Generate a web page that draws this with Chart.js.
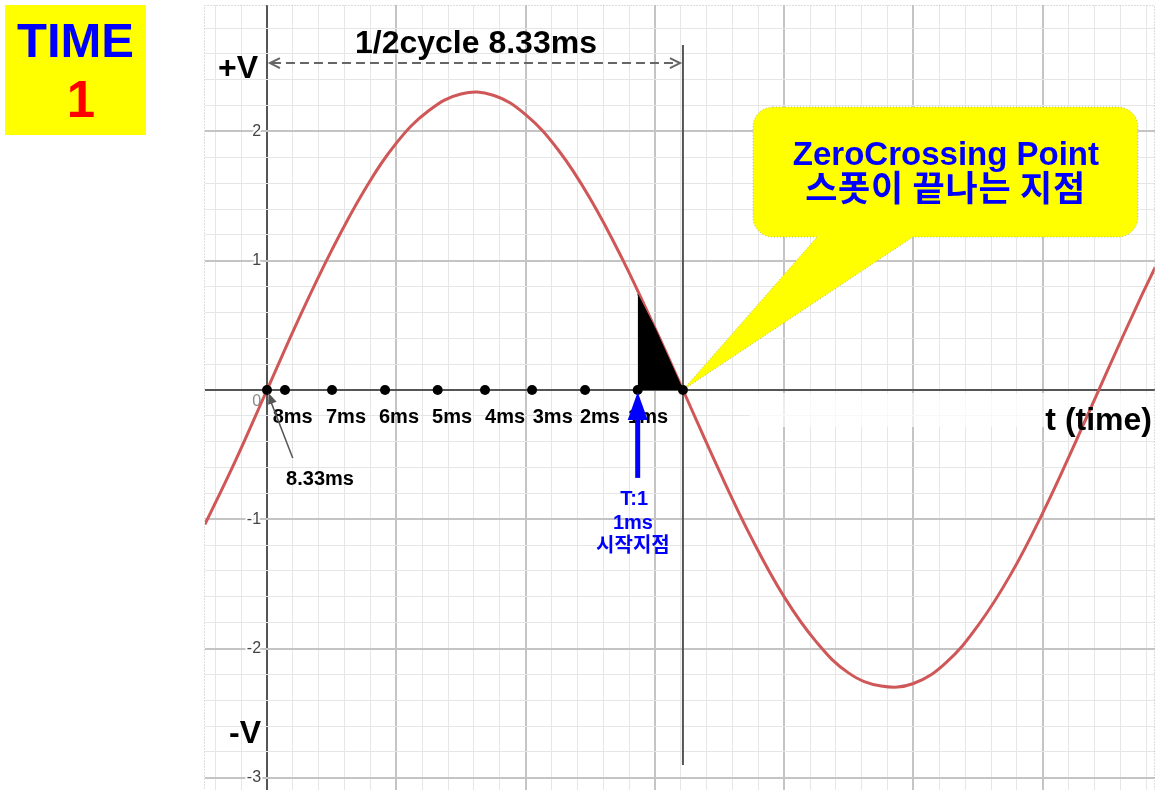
<!DOCTYPE html>
<html>
<head>
<meta charset="utf-8">
<script src="https://cdn.jsdelivr.net/npm/chart.js@4.4.0/dist/chart.umd.min.js"></script>
<style>
  html, body { margin: 0; padding: 0; background: #fff; overflow: hidden; }
  #wrap { position: relative; width: 1165px; height: 790px; overflow: hidden; }
  canvas { display: block; }
</style>
</head>
<body>
<div id="wrap"><canvas id="chart" width="1165" height="795"></canvas></div>
<script>
// wave: t and v in grid units (1 grid unit = 1 major square)
const waveT = [-0.48, -0.25, 0, 0.25, 0.5, 0.75, 1.0, 1.25, 1.5, 1.75, 2.0, 2.25, 2.5, 2.75, 3.0, 3.217,
  3.5, 3.75, 4.0, 4.25, 4.5, 4.75, 5.0, 5.25, 5.5, 5.75, 6.0, 6.25, 6.5, 6.75, 6.87]
const waveV = [-1.04, -0.56, 0, 0.56, 1.08, 1.54, 1.91, 2.16, 2.29, 2.28, 2.13, 1.86, 1.48, 1.01, 0.48, 0,
  -0.63, -1.15, -1.60, -1.95, -2.19, -2.29, -2.27, -2.11, -1.82, -1.43, -0.95, -0.41, 0.15, 0.70, 0.95]

// black area from the 1ms point to the zero crossing
const shadeT = [2.867, 3.0, 3.217]
const shadeV = [0.74, 0.48, 0]

// points marked on the time axis
const dotT = [0, 0.139, 0.503, 0.913, 1.32, 1.686, 2.05, 2.46, 2.867, 3.217]
const msLabels = ['8ms', '7ms', '6ms', '5ms', '4ms', '3ms', '2ms', '1ms']

const yTickValues = [2, 1, 0, -1, -2, -3]
const yTickLabels = ['2', '1', '0', '-1', '-2', '-3']

const X_MIN = -0.4795, X_MAX = 6.868
const Y_MIN = -3.094, Y_MAX = 2.978

const FONT = '"Liberation Sans", Arial, sans-serif'
const KFONT = '"Noto Sans CJK KR", "Liberation Sans", sans-serif'

function gridTicks(from, to) {
    const out = []
    for (let i = Math.ceil(from * 5); i <= Math.floor(to * 5); i++) out.push({value: i / 5})
    return out
}

function gridColor(ctx) {
    const v = ctx.tick.value
    if (Math.abs(v) < 1e-9) return '#555555'
    if (Math.abs(v - Math.round(v)) < 1e-9) return '#c4c4c4'
    return '#e6e6e6'
}

function gridWidth(ctx) {
    const v = ctx.tick.value
    if (Math.abs(v) < 1e-9) return 2
    if (Math.abs(v - Math.round(v)) < 1e-9) return 2
    return 1
}

function arrowHead(ctx, fx, fy, tx, ty, len, half) {
    const a = Math.atan2(ty - fy, tx - fx)
    ctx.beginPath()
    ctx.moveTo(tx, ty)
    ctx.lineTo(tx - len * Math.cos(a) + half * Math.sin(a), ty - len * Math.sin(a) - half * Math.cos(a))
    ctx.lineTo(tx - len * Math.cos(a) - half * Math.sin(a), ty - len * Math.sin(a) + half * Math.cos(a))
    ctx.closePath()
    ctx.fill()
}

function spacedText(ctx, text, cx, by, width) {
    const w = ctx.measureText(text).width
    const n = [...text].length
    const gap = (width - w) / (n - 1)
    let xx = cx - width / 2
    ctx.textAlign = 'left'
    for (const ch of text) {
        ctx.fillText(ch, xx, by)
        xx += ctx.measureText(ch).width + gap
    }
}

const annotate = {
    id: 'annotate',
    beforeDatasetsDraw(chart) {
        const {ctx, chartArea: area, scales: {x, y}} = chart
        const px = v => x.getPixelForValue(v)
        const py = v => y.getPixelForValue(v)
        ctx.save()

        // light band behind the time label
        ctx.fillStyle = 'rgba(255,255,255,0.7)'
        ctx.fillRect(px(3.735), py(-0.023), area.right - px(3.735), py(-0.286) - py(-0.023))

        // y tick labels
        ctx.font = '16px ' + FONT
        ctx.textAlign = 'right'
        ctx.textBaseline = 'middle'
        ctx.lineWidth = 4
        ctx.strokeStyle = '#ffffff'
        yTickValues.forEach((v, i) => {
            const yy = v === 0 ? py(-0.093) : py(v)
            ctx.fillStyle = v === 0 ? '#8a8a8a' : '#444444'
            ctx.strokeText(yTickLabels[i], px(-0.046), yy)
            ctx.fillText(yTickLabels[i], px(-0.046), yy)
        })

        // half cycle marker line
        ctx.strokeStyle = '#555555'
        ctx.lineWidth = 2
        ctx.beginPath()
        ctx.moveTo(px(3.217), py(2.668))
        ctx.lineTo(px(3.217), py(-2.90))
        ctx.stroke()

        // callout box with pointer to the zero crossing
        const x0 = px(3.759), x1 = px(6.736), y0 = py(2.189), y1 = py(1.183), r = 20
        ctx.beginPath()
        ctx.moveTo(x0 + r, y0)
        ctx.lineTo(x1 - r, y0)
        ctx.arcTo(x1, y0, x1, y0 + r, r)
        ctx.lineTo(x1, y1 - r)
        ctx.arcTo(x1, y1, x1 - r, y1, r)
        ctx.lineTo(px(4.996), y1)
        ctx.lineTo(px(3.217), py(0))
        ctx.lineTo(px(4.254), y1)
        ctx.lineTo(x0 + r, y1)
        ctx.arcTo(x0, y1, x0, y1 - r, r)
        ctx.lineTo(x0, y0 + r)
        ctx.arcTo(x0, y0, x0 + r, y0, r)
        ctx.closePath()
        ctx.fillStyle = '#ffff00'
        ctx.fill()
        ctx.setLineDash([1, 2])
        ctx.lineWidth = 1
        ctx.strokeStyle = 'rgba(140,140,100,0.6)'
        ctx.stroke()
        ctx.setLineDash([])

        ctx.fillStyle = '#0000ff'
        ctx.textBaseline = 'alphabetic'
        ctx.textAlign = 'center'
        ctx.font = 'bold 33px ' + FONT
        ctx.fillText('ZeroCrossing Point', px(5.251), py(1.740))
        ctx.font = 'bold 35px ' + KFONT
        spacedText(ctx, '스폿이 끝나는 지점', px(5.245), py(1.460), 280)

        ctx.restore()
    },
    afterDatasetsDraw(chart) {
        const {ctx, chartArea: area, scales: {x, y}} = chart
        const px = v => x.getPixelForValue(v)
        const py = v => y.getPixelForValue(v)
        ctx.save()
        ctx.textBaseline = 'alphabetic'

        // +V / -V
        ctx.fillStyle = '#000000'
        ctx.textAlign = 'center'
        ctx.font = 'bold 32px ' + FONT
        ctx.fillText('+V', px(-0.224), py(2.413))
        ctx.fillText('-V', px(-0.170), py(-2.730))

        // half cycle title and dashed span arrow
        ctx.font = 'bold 32px ' + FONT
        ctx.fillText('1/2cycle 8.33ms', px(1.616), py(2.606))
        const ay = py(2.529), ax0 = px(0.023), ax1 = px(3.194)
        ctx.strokeStyle = '#666666'
        ctx.lineWidth = 2
        ctx.setLineDash([9, 5])
        ctx.beginPath()
        ctx.moveTo(ax0 + 2, ay)
        ctx.lineTo(ax1 - 2, ay)
        ctx.stroke()
        ctx.setLineDash([])
        ctx.beginPath()
        ctx.moveTo(ax0 + 10, ay - 5)
        ctx.lineTo(ax0, ay)
        ctx.lineTo(ax0 + 10, ay + 5)
        ctx.moveTo(ax1 - 10, ay - 5)
        ctx.lineTo(ax1, ay)
        ctx.lineTo(ax1 - 10, ay + 5)
        ctx.stroke()

        // ms labels on the time axis
        const msLabelT = [0.199, 0.611, 1.021, 1.431, 1.841, 2.210, 2.575, 2.947]
        ctx.font = 'bold 20px ' + FONT
        ctx.fillStyle = '#000000'
        msLabels.forEach((t, i) => ctx.fillText(t, px(msLabelT[i]), py(-0.255)))

        // 8.33ms pointer
        ctx.fillText('8.33ms', px(0.41), py(-0.735))
        ctx.strokeStyle = '#555555'
        ctx.fillStyle = '#555555'
        ctx.lineWidth = 1.5
        ctx.beginPath()
        ctx.moveTo(px(0.199), py(-0.526))
        ctx.lineTo(px(0.03), py(-0.09))
        ctx.stroke()
        arrowHead(ctx, px(0.199), py(-0.526), px(0.012), py(-0.023), 11, 4.5)

        // blue start marker
        ctx.fillStyle = '#0000ff'
        ctx.strokeStyle = '#0000ff'
        ctx.lineWidth = 5
        ctx.beginPath()
        ctx.moveTo(px(2.867), py(-0.68))
        ctx.lineTo(px(2.867), py(-0.20))
        ctx.stroke()
        arrowHead(ctx, px(2.867), py(-0.68), px(2.867), py(-0.015), 28, 10)
        ctx.font = 'bold 20px ' + FONT
        ctx.fillText('T:1', px(2.84), py(-0.889))
        ctx.fillText('1ms', px(2.83), py(-1.075))
        ctx.font = 'bold 20px ' + KFONT
        ctx.fillText('시작지점', px(2.83), py(-1.255))

        // time axis name
        ctx.fillStyle = '#000000'
        ctx.textAlign = 'right'
        ctx.font = 'bold 32px ' + FONT
        ctx.fillText('t (time)', px(6.845), py(-0.309))

        // dotted plot frame
        ctx.strokeStyle = '#bdbdbd'
        ctx.lineWidth = 1
        ctx.setLineDash([1, 2])
        ctx.strokeRect(area.left - 0.5, area.top + 0.5, area.right - area.left, area.bottom - area.top + 5)
        ctx.setLineDash([])
        ctx.restore()
    },
    afterDraw(chart) {
        const {ctx} = chart
        ctx.save()
        // TIME 1 badge
        ctx.fillStyle = '#ffff00'
        ctx.fillRect(5, 5, 141, 130)
        ctx.textAlign = 'center'
        ctx.textBaseline = 'alphabetic'
        ctx.font = 'bold 49px ' + FONT
        ctx.fillStyle = '#0000ff'
        ctx.fillText('TIME', 75.5, 57)
        ctx.font = 'bold 51px ' + FONT
        ctx.fillStyle = '#ff0000'
        ctx.fillText('1', 81, 117)
        ctx.restore()
    }
}

new Chart('chart', {
    type: 'line',
    data: {
        datasets: [
            {
                data: dotT.map(t => ({x: t, y: 0})),
                showLine: false,
                pointRadius: 5,
                pointBackgroundColor: '#000000',
                pointBorderColor: '#000000',
                pointBorderWidth: 0,
                order: 0
            },
            {
                data: shadeT.map((t, i) => ({x: t, y: shadeV[i]})),
                borderColor: '#000000',
                backgroundColor: '#000000',
                borderWidth: 1,
                fill: 'origin',
                pointRadius: 0,
                tension: 0,
                order: 1
            },
            {
                data: waveT.map((t, i) => ({x: t, y: waveV[i]})),
                borderColor: '#cf5757',
                borderWidth: 3,
                pointRadius: 0,
                tension: 0.4,
                fill: false,
                order: 2
            }
        ]
    },
    options: {
        responsive: false,
        animation: false,
        devicePixelRatio: 1,
        layout: {padding: {left: 205, right: 10, top: 5, bottom: 0}},
        plugins: {legend: {display: false}, tooltip: {enabled: false}},
        scales: {
            x: {
                type: 'linear',
                min: X_MIN,
                max: X_MAX,
                afterBuildTicks: scale => { scale.ticks = gridTicks(X_MIN, X_MAX) },
                ticks: {display: false},
                border: {display: false},
                grid: {drawTicks: false, color: gridColor, lineWidth: gridWidth}
            },
            y: {
                type: 'linear',
                min: Y_MIN,
                max: Y_MAX,
                afterBuildTicks: scale => { scale.ticks = gridTicks(Y_MIN, Y_MAX) },
                ticks: {display: false},
                border: {display: false},
                grid: {drawTicks: false, color: gridColor, lineWidth: gridWidth}
            }
        }
    },
    plugins: [annotate]
})
</script>
</body>
</html>
